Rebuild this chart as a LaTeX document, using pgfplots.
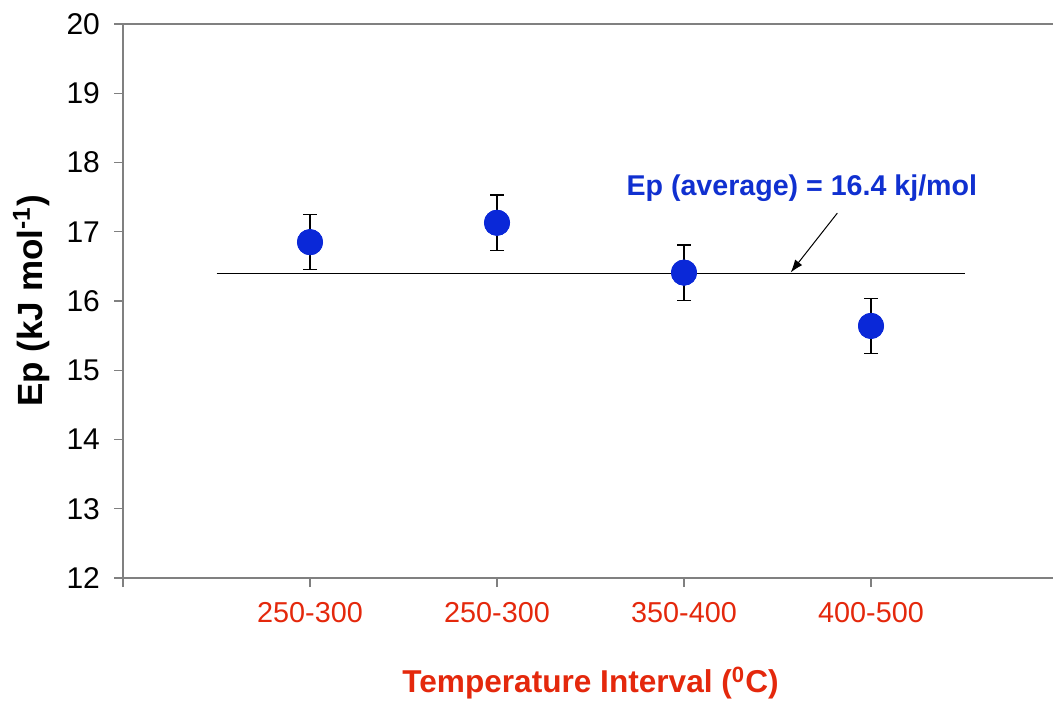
\documentclass[border=0pt]{standalone}
\usepackage{pgfplots}
\pgfplotsset{compat=1.18}
\usetikzlibrary{arrows.meta}
\usepackage{fontspec}
\setmainfont{Liberation Sans}
\definecolor{mblue}{RGB}{10,40,216}
\definecolor{tblue}{RGB}{16,48,208}
\definecolor{lred}{RGB}{228,40,12}
\definecolor{axgray}{RGB}{128,128,128}
\begin{document}
\begin{tikzpicture}
\useasboundingbox (-61.5pt,-62pt) rectangle (465pt,289pt);
\begin{axis}[
  scale only axis,
  width=467.5pt, height=277pt,
  xmin=-1, xmax=4, ymin=12, ymax=20,
  axis line style={axgray, line width=1pt},
  ytick={12,13,14,15,16,17,18,19,20},
  xtick={-1,0,1,2,3,4},
  xticklabels={,250-300,250-300,350-400,400-500,},
  tick align=outside,
  major tick length=4.5pt,
  tick style={axgray, line width=0.6pt},
  xtick pos=bottom, ytick pos=left,
  /pgf/number format/assume math mode=true,
  yticklabel style={font=\fontsize{15}{17}\selectfont, black, xshift=-3.5pt},
  xticklabel style={font=\fontsize{14.4}{16}\selectfont, lred, yshift=-4pt},
  every axis y label/.style={at={(axis description cs:-0.098,0.5)}, anchor=center, rotate=90},
  every axis x label/.style={at={(axis description cs:0.5,-0.1895)}, anchor=center},
  ylabel={\fontsize{17.5}{19}\selectfont\bfseries Ep (kJ mol\textsuperscript{-1})},
  xlabel={\fontsize{15.8}{18}\selectfont\bfseries\color{lred} Temperature Interval (\textsuperscript{0}C)},
  clip=false,
]
\addplot[black, line width=0.8pt] coordinates {(-0.5,16.4) (3.5,16.4)};
\addplot[only marks, mark=*, mark size=6.3pt, mark options={fill=mblue, draw=mblue},
  error bars/.cd, y dir=both, y explicit,
  error bar style={black, line width=0.6pt},
  error mark options={black, rotate=90, mark size=3.5pt, line width=0.6pt}]
  coordinates {
  (0,16.85) +- (0,0.4)
  (1,17.13) +- (0,0.4)
  (2,16.41) +- (0,0.4)
  (3,15.64) +- (0,0.4)
};
\addplot[only marks, mark=*, mark size=6.3pt, mark options={fill=mblue, draw=mblue}]
  coordinates {(0,16.85) (1,17.13) (2,16.41) (3,15.64)};
\draw[-{Latex[length=6.5pt,width=4.5pt]}, black, line width=0.5pt] (axis cs:2.82,17.27) -- (axis cs:2.57,16.41);
\node[font=\fontsize{14.3}{16}\selectfont\bfseries, text=tblue] at (axis cs:2.63,17.63) {Ep (average) = 16.4 kj/mol};
\end{axis}
\end{tikzpicture}
\end{document}
